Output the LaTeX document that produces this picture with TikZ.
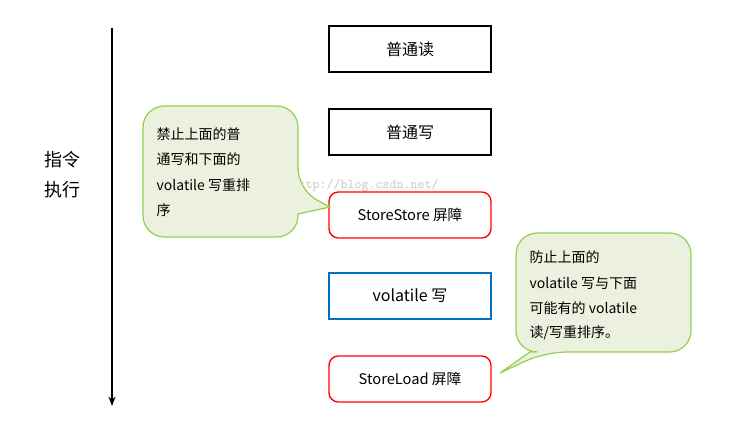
\documentclass[tikz,border=0pt]{standalone}
\usepackage{fontspec}
\setmainfont{Noto Sans CJK SC}
\usetikzlibrary{arrows.meta}
\begin{document}
\begin{tikzpicture}[x=0.75pt,y=-0.75pt,
  box/.style={draw, line width=1pt, minimum width=121.5pt, minimum height=34.5pt, font=\fontsize{12}{14}\selectfont},
  call/.style={draw={rgb,255:red,146;green,208;blue,80}, line width=0.9pt, fill={rgb,255:red,235;green,241;blue,222}},
  ctext/.style={font=\fontsize{10.5}{13}\selectfont, anchor=west}]
\useasboundingbox (0,0) rectangle (732,424);
\draw[line width=1.2pt,-{Stealth[length=7pt]}] (112,28) -- (112,406);
\node[font=\fontsize{13.5}{16}\selectfont] (zl) at (62,160) {指令};
\node[font=\fontsize{13.5}{16}\selectfont] (zx) at (62,190) {执行};
\node[text=gray!45, font=\fontsize{10}{12}\ttfamily] (wm) at (365,185) {http://blog.csdn.net/};
\node[box] (a) at (410,49) {普通读};
\node[box] (b) at (410,132) {普通写};
\node[box, draw=red, rounded corners=7pt, font=\fontsize{11}{13}\selectfont] (c) at (410,215) {StoreStore 屏障};
\node[box, draw={rgb,255:red,0;green,112;blue,192}] (d) at (410,296) {volatile 写};
\node[box, draw=red, rounded corners=7pt, font=\fontsize{11}{13}\selectfont] (e) at (410,379) {StoreLoad 屏障};
\draw[call, rounded corners=16pt] (143,170) -- (143,106) -- (298,106) -- (298,190) [sharp corners] -- (330,207) -- (298,214) [rounded corners=16pt] -- (298,237) -- (143,237) -- cycle;
\node[ctext] (t1) at (152,134) {禁止上面的普};
\node[ctext] (t2) at (152,159) {通写和下面的};
\node[ctext] (t3) at (152,185) {volatile 写重排};
\node[ctext] (t4) at (152,210) {序};
\draw[call, rounded corners=16pt] (516,290) -- (516,233) -- (691,233) -- (691,352) -- (545,352) [sharp corners] -- (500,373) -- (530,352) [rounded corners=16pt] -- (516,352) -- cycle;
\node[ctext] (u1) at (525,257) {防止上面的};
\node[ctext] (u2) at (525,283) {volatile 写与下面};
\node[ctext] (u3) at (525,308) {可能有的 volatile};
\node[ctext] (u4) at (525,333) {读/写重排序。};
\end{tikzpicture}
\end{document}
